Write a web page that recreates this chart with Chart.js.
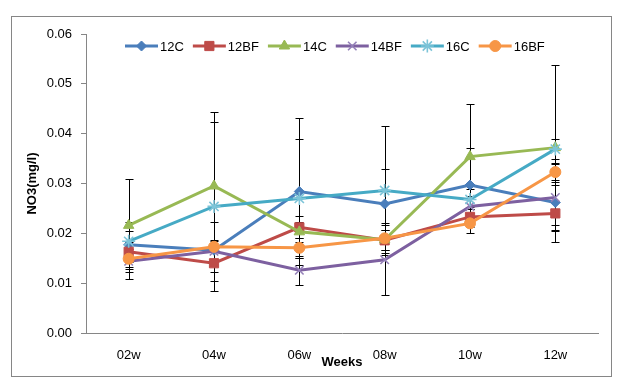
<!DOCTYPE html>
<html>
<head>
<meta charset="utf-8">
<script src="https://cdn.jsdelivr.net/npm/chart.js@4.4.1/dist/chart.umd.min.js"></script>
<style>
  html, body { margin: 0; padding: 0; background: #fff; }
  #wrap { width: 623px; height: 382px; }
</style>
</head>
<body>
<div id="wrap"><canvas id="no3Chart"></canvas></div>
<script>
// data
const weeks = ['02w', '04w', '06w', '08w', '10w', '12w'];
const seriesNames = ['12C', '12BF', '14C', '14BF', '16C', '16BF'];

const v12C  = [0.0177, 0.0166, 0.0284, 0.0259, 0.0297, 0.0262];
const v12BF = [0.0163, 0.0140, 0.0212, 0.0186, 0.0233, 0.0240];
const v14C  = [0.0216, 0.0295, 0.0203, 0.0187, 0.0354, 0.0372];
const v14BF = [0.0144, 0.0164, 0.0126, 0.0147, 0.0254, 0.0272];
const v16C  = [0.0184, 0.0254, 0.0270, 0.0286, 0.0268, 0.0369];
const v16BF = [0.0149, 0.0173, 0.0171, 0.0190, 0.0220, 0.0323];

// error bar half widths (+/-)
const e12C  = [0.0045, 0.0020, 0.0147, 0.0070, 0.0074, 0.0045];
const e12BF = [0.0020, 0.0035, 0.0022, 0.0020, 0.0020, 0.0057];
const e14C  = [0.0094, 0.0148, 0.0020, 0.0020, 0.0105, 0.0166];
const e14BF = [0.0035, 0.0020, 0.0029, 0.0070, 0.0020, 0.0067];
const e16C  = [0.0020, 0.0170, 0.0119, 0.0130, 0.0020, 0.0020];
const e16BF = [0.0020, 0.0050, 0.0020, 0.0030, 0.0020, 0.0019];

const yTicks = [0, 0.01, 0.02, 0.03, 0.04, 0.05, 0.06];

const values = [v12C, v12BF, v14C, v14BF, v16C, v16BF];
const errors = [e12C, e12BF, e14C, e14BF, e16C, e16BF];
const colors = ['#4a7ebb', '#be4b48', '#98b954', '#7d60a0', '#46aac5', '#f79646'];
const markerColors = ['#4a7ebb', '#be4b48', '#98b954', '#9480b8', '#7cc4d8', '#f79646'];
const styles = ['rectRot', 'rect', 'triangle', 'crossRot', 'star', 'circle'];
const radii = [5, 6.5, 6, 6, 6.5, 5.5];

const FONT = "'Liberation Sans', Arial, sans-serif";

const datasets = values.map((v, i) => ({
    label: seriesNames[i],
    data: v,
    errors: errors[i],
    borderColor: colors[i],
    backgroundColor: markerColors[i],
    borderWidth: 3,
    pointStyle: styles[i],
    pointRadius: radii[i],
    pointHoverRadius: radii[i],
    pointBorderColor: markerColors[i],
    pointBackgroundColor: markerColors[i],
    pointBorderWidth: (styles[i] === 'crossRot' || styles[i] === 'star') ? 1.6 : 1,
    tension: 0,
    fill: false,
    order: 10 - i
}));

const framePlugin = {
    id: 'frame',
    beforeDraw(chart) {
        const ctx = chart.ctx;
        ctx.save();
        ctx.fillStyle = '#fff';
        ctx.fillRect(0, 0, chart.width, chart.height);
        ctx.strokeStyle = '#868686';
        ctx.lineWidth = 1;
        ctx.strokeRect(11.5, 16.5, 600, 360);
        ctx.restore();
    }
};

const errorBarPlugin = {
    id: 'errorBars',
    beforeDatasetsDraw(chart) {
        const ctx = chart.ctx;
        const y = chart.scales.y;
        ctx.save();
        ctx.strokeStyle = '#000';
        ctx.lineWidth = 1;
        chart.data.datasets.forEach((ds, di) => {
            const meta = chart.getDatasetMeta(di);
            meta.data.forEach((pt, i) => {
                const e = ds.errors[i];
                const x = Math.round(pt.x) + 0.5;
                const yTop = Math.round(y.getPixelForValue(ds.data[i] + e)) + 0.5;
                const yBot = Math.round(y.getPixelForValue(ds.data[i] - e)) + 0.5;
                ctx.beginPath();
                ctx.moveTo(x, yTop); ctx.lineTo(x, yBot);
                ctx.moveTo(x - 4, yTop); ctx.lineTo(x + 4, yTop);
                ctx.moveTo(x - 4, yBot); ctx.lineTo(x + 4, yBot);
                ctx.stroke();
            });
        });
        ctx.restore();
    }
};

const legendPlugin = {
    id: 'lineLegend',
    afterDraw(chart) {
        const ctx = chart.ctx;
        ctx.save();
        ctx.font = '13px ' + FONT;
        ctx.textBaseline = 'middle';
        let x = 125;
        const yy = 46;
        chart.data.datasets.forEach((ds) => {
            ctx.strokeStyle = ds.borderColor;
            ctx.lineWidth = 3;
            ctx.beginPath();
            ctx.moveTo(x, yy); ctx.lineTo(x + 33, yy);
            ctx.stroke();
            ctx.fillStyle = ds.pointBackgroundColor;
            ctx.strokeStyle = ds.pointBorderColor;
            ctx.lineWidth = ds.pointBorderWidth;
            Chart.helpers.drawPoint(ctx, { pointStyle: ds.pointStyle, radius: ds.pointRadius, rotation: 0, borderWidth: ds.pointBorderWidth }, x + 16.5, yy);
            ctx.fillStyle = '#000';
            ctx.fillText(ds.label, x + 35, yy + 1);
            x += 35 + ctx.measureText(ds.label).width + 9;
        });
        ctx.restore();
    }
};

new Chart(document.getElementById('no3Chart'), {
    type: 'line',
    data: { labels: weeks, datasets: datasets },
    options: {
        responsive: true,
        maintainAspectRatio: false,
        animation: false,
        events: [],
        layout: { padding: { top: 34, right: 25, left: 0, bottom: 0 } },
        plugins: { legend: { display: false }, tooltip: { enabled: false } },
        scales: {
            x: {
                offset: true,
                grid: { drawOnChartArea: false, drawTicks: false, offset: true },
                border: { display: true, color: '#868686', width: 1 },
                ticks: { color: '#000', font: { family: FONT, size: 13 }, padding: 15, maxRotation: 0 },
                title: { display: true, text: 'Weeks', color: '#000', font: { family: FONT, size: 13, weight: 'bold' }, padding: { top: 0, bottom: 12 } },
                afterFit(scale) { scale.height = 49; }
            },
            y: {
                min: 0,
                max: 0.06,
                afterBuildTicks(scale) { scale.ticks = yTicks.map(v => ({ value: v })); },
                grid: { drawOnChartArea: false, drawTicks: true, tickLength: 5, color: '#868686' },
                border: { display: true, color: '#868686', width: 1 },
                ticks: { color: '#000', font: { family: FONT, size: 13 }, padding: 9, callback: v => v.toFixed(2) },
                title: { display: true, text: 'NO3(mg/l)', color: '#000', font: { family: FONT, size: 13, weight: 'bold' }, padding: { top: 25, bottom: 0 } },
                afterFit(scale) { scale.width = 86; }
            }
        }
    },
    plugins: [framePlugin, errorBarPlugin, legendPlugin]
});
</script>
</body>
</html>
